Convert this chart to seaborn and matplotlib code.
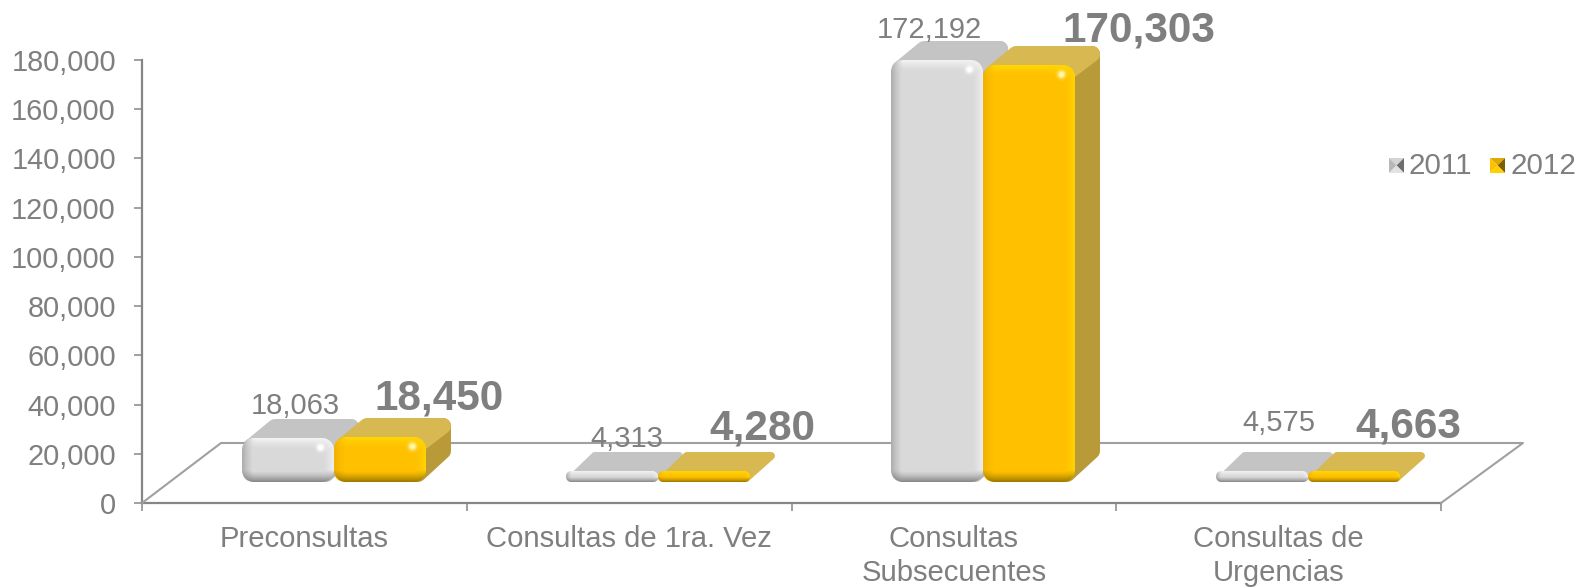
import numpy as np
import pandas as pd
import seaborn as sns
import matplotlib
matplotlib.use("Agg")
import matplotlib.pyplot as plt
from matplotlib.lines import Line2D
from matplotlib.patches import FancyBboxPatch, Polygon
from matplotlib.transforms import Affine2D

categories = ["Preconsultas", "Consultas de 1ra. Vez", "Consultas\nSubsecuentes", "Consultas de\nUrgencias"]
values_2011 = [18063, 4313, 172192, 4575]
values_2012 = [18450, 4280, 170303, 4663]
years = ["2011", "2012"]

W, H = 1579, 587
GREY = "#7f7f7f"

sns.set_theme(style="white")
plt.rcParams["font.family"] = ["Liberation Sans", "DejaVu Sans"]

df = pd.DataFrame({
    "cat": categories * 2,
    "year": [years[0]] * 4 + [years[1]] * 4,
    "value": values_2011 + values_2012,
})

fig = plt.figure(figsize=(W / 100, H / 100), dpi=100)
ax = fig.add_axes([142 / W, (H - 503) / H, 1299 / W, 443 / H])
ax.patch.set_visible(False)
px = Affine2D().scale(1 / W, -1 / H).translate(0, 1) + fig.transFigure

sns.barplot(data=df, x="cat", y="value", hue="year", palette={"2011": "#d9d9d9", "2012": "#ffc000"},
            width=0.567, gap=0, saturation=1, errorbar=None, legend=False, ax=ax)

ax.set_xlim(-0.5, 3.5)
ax.set_ylim(0, 180000)
ax.set_xlabel("")
ax.set_ylabel("")
ax.set_yticks(np.arange(0, 180001, 20000))
ax.set_yticklabels([f"{t:,}" for t in range(0, 180001, 20000)])
ax.set_xticks(np.arange(-0.5, 3.6, 1), minor=True)
ax.tick_params(axis="y", length=5.8, width=1.1, color="#868686", pad=13, labelsize=20.8, labelcolor=GREY, left=True)
ax.tick_params(axis="x", which="major", length=0, pad=16, labelsize=21.1, labelcolor=GREY)
ax.tick_params(axis="x", which="minor", length=5.8, width=1.1, color="#868686", bottom=True)
for label in ax.get_xticklabels():
    label.set_linespacing(1.24)
sns.despine(ax=ax)
for side in ["left", "bottom"]:
    ax.spines[side].set_color("#868686")
    ax.spines[side].set_linewidth(1.6)

# floor of the 3d box
floor_x = [142, 221, 1523, 1441]
floor_y = [503, 443, 443, 503]
fig.add_artist(Line2D(floor_x, floor_y, color="#a0a0a0", lw=1.5, transform=px, zorder=1))


def bevel_image(w, h, base, light, dark, left, spot):
    # rounded front face of a bar, shaded at the rim
    r = min(12, h / 2)
    yy, xx = np.mgrid[0:h, 0:w]
    qx = np.abs(xx + 0.5 - w / 2) - (w / 2 - r)
    qy = np.abs(yy + 0.5 - h / 2) - (h / 2 - r)
    d = np.hypot(np.maximum(qx, 0), np.maximum(qy, 0)) + np.minimum(np.maximum(qx, qy), 0) - r
    ny, nx = np.gradient(d)
    rim = np.clip(1 + d / min(11, h / 2), 0, 1) ** 1.3
    img = np.ones((h, w, 3)) * np.array(base)
    for amount, col in [(np.clip(-ny, 0, 1) * rim, light), (np.clip(nx, 0, 1) * rim * 0.8, light),
                        (np.clip(-nx, 0, 1) * rim * 0.85, left), (np.clip(ny, 0, 1) * rim, dark)]:
        img = img + (np.array(col) - img) * amount[..., None]
    if spot is not None and h > 25:
        g = np.clip(1.3 * np.exp(-((xx - (w - 14)) ** 2 + (yy - 9) ** 2) / 14.0), 0, 1)
        img = img + (np.array(spot) - img) * g[..., None]
    alpha = np.clip(0.5 - d, 0, 1)
    return np.dstack([img, alpha])


rgb = matplotlib.colors.to_rgb
styles = [
    dict(top="#c4c4c4", side="#b4b4b4", base=rgb("#d9d9d9"), light=rgb("#f4f4f4"), dark=rgb("#858585"),
         left=rgb("#a4a4a4"), spot=rgb("#ffffff")),
    dict(top="#d8b850", side="#b89a38", base=rgb("#ffc000"), light=rgb("#ffd800"), dark=rgb("#9a7600"),
         left=rgb("#eeae00"), spot=rgb("#fff8a8")),
]

floor_gap = 8540      # bars stand inside the floor, not on the axis
x_shift = 0.09        # same for the depth of the box
depth_scale = 0.996
dx, dy = 25, 19

for container, st in zip(ax.containers, styles):
    for bar in container:
        bar.set_x(bar.get_x() + x_shift)
        bar.set_height(bar.get_height() * depth_scale)
        bar.set_y(floor_gap)
        (x0, y1), (x1, y0) = ax.transData.transform(
            [(bar.get_x(), floor_gap), (bar.get_x() + bar.get_width(), floor_gap + bar.get_height())])
        x0, x1 = int(round(x0)), int(round(x1))
        y0, y1 = H - int(round(y0)), H - int(round(y1))
        w, h = x1 - x0, y1 - y0
        r = min(12, h / 2)
        clip = FancyBboxPatch((x0 + r, y0 + r), w - 2 * r, h - 2 * r, boxstyle=f"round,pad={r}", transform=px)
        bar.set_clip_path(clip)
        # depth faces, the round join gives the soft corners
        j = min(8, h * 0.35)
        faces = []
        if h > 20:
            faces.append(([(x1 - j, y0 + j), (x1 + dx - j, y0 - dy + j), (x1 + dx - j, y1 - dy - j - 4),
                           (x1 - j, y1 - j)], st["side"]))
        top_front = y0 + j if h > 20 else y1 - j
        faces.append(([(x0 + j + 2, top_front), (x0 + dx + j, y0 - dy + j), (x1 + dx - j, y0 - dy + j),
                       (x1 - j, top_front)], st["top"]))
        for pts, col in faces:
            fig.add_artist(Polygon(pts, closed=True, fc=col, ec=col, lw=j * 1.44, joinstyle="round",
                                   transform=px, zorder=1.5))
        img = bevel_image(w, h, st["base"], st["light"], st["dark"], st["left"], st["spot"])
        fig.figimage(img, xo=x0, yo=H - y1, origin="upper", zorder=2)

# value labels, 2011 plain and 2012 big bold
label_xy_2011 = [(295, 406), (627, 439), (929, 30), (1279, 423)]
label_xy_2012 = [(439, 398), (762, 428), (1139, 30), (1408, 426)]
for v, (x, y) in zip(values_2011, label_xy_2011):
    fig.text(x / W, 1 - y / H, f"{v:,}", ha="center", va="center", fontsize=21, color=GREY, zorder=5)
for v, (x, y) in zip(values_2012, label_xy_2012):
    fig.text(x / W, 1 - y / H, f"{v:,}", ha="center", va="center", fontsize=30.4, fontweight="bold",
             color=GREY, zorder=5)

# legend with the little pyramid keys
key_colors = [
    ("#d4d4d4", "#b8b8b8", "#6e6e6e", "#e2e2e2"),
    ("#e0a800", "#ffc000", "#7d5e00", "#ffd000"),
]
for year, kx, tx, cols in zip(years, [1389, 1490], [1409, 1510], key_colors):
    ky0, ky1 = 158, 173
    mx, my = kx + 7.5, (ky0 + ky1) / 2
    tris = [[(kx, ky0), (kx + 15, ky0), (mx, my)], [(kx, ky0), (kx, ky1), (mx, my)],
            [(kx + 15, ky0), (kx + 15, ky1), (mx, my)], [(kx, ky1), (kx + 15, ky1), (mx, my)]]
    for tri, col in zip(tris, cols):
        fig.add_artist(Polygon(tri, closed=True, fc=col, ec="none", transform=px, zorder=3))
    fig.text(tx / W, 1 - 165.5 / H, year, ha="left", va="center", fontsize=21.3, color=GREY, zorder=5)

fig.savefig("out.png", dpi=100)
